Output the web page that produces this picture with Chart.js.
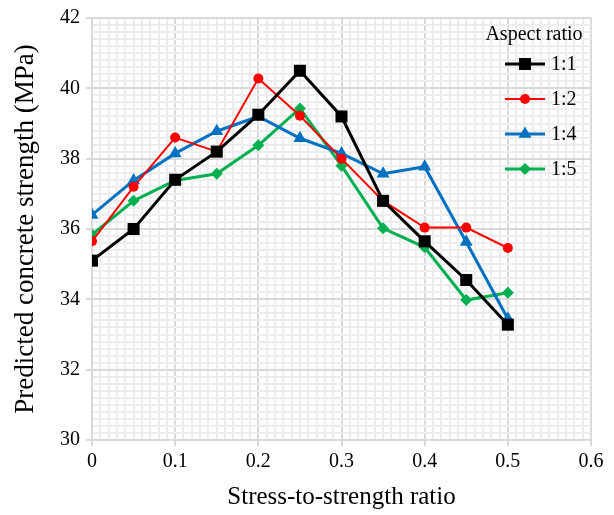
<!DOCTYPE html>
<html>
<head>
<meta charset="utf-8">
<script src="https://cdn.jsdelivr.net/npm/chart.js@4.4.1/dist/chart.umd.min.js"></script>
<style>
  html, body { margin: 0; padding: 0; background: #fff; }
  #wrap { width: 614px; height: 515px; }
</style>
</head>
<body>
<div id="wrap"><canvas id="chart" width="614" height="515"></canvas></div>
<script>
// stress-to-strength ratio
const ratios = [0, 0.05, 0.1, 0.15, 0.2, 0.25, 0.3, 0.35, 0.4, 0.45, 0.5];

// predicted concrete strength (MPa) for each aspect ratio
const aspect11 = [35.1, 36.0, 37.4, 38.2, 39.25, 40.5, 39.2, 36.8, 35.65, 34.55, 33.28];
const aspect12 = [35.65, 37.2, 38.6, 38.2, 40.28, 39.22, 38.0, 36.8, 36.04, 36.04, 35.46];
const aspect14 = [36.4, 37.38, 38.15, 38.78, 39.2, 38.58, 38.15, 37.57, 37.77, 35.63, 33.45];
const aspect15 = [35.84, 36.8, 37.38, 37.57, 38.38, 39.43, 37.8, 36.02, 35.48, 33.98, 34.19];

const seriesNames = ['1:1', '1:2', '1:4', '1:5'];
const xTicksMajor = [0, 0.1, 0.2, 0.3, 0.4, 0.5, 0.6];
const yTicksMajor = [30, 32, 34, 36, 38, 40, 42];

const FONT = "'Liberation Serif', 'Times New Roman', serif";

function pts(ys) {
  return ratios.map((x, i) => ({ x: x, y: ys[i] }));
}

function isMajor(v, list) {
  return list.some(m => Math.abs(m - v) < 1e-6);
}

// draws the "Aspect ratio" legend inside the plot area
const boxLegend = {
  id: 'boxLegend',
  afterDatasetsDraw(chart) {
    const ctx = chart.ctx;
    const area = chart.chartArea;
    const cx = area.right - 57;
    ctx.save();
    ctx.fillStyle = '#000';
    ctx.font = '20px ' + FONT;
    ctx.textAlign = 'center';
    ctx.textBaseline = 'middle';
    ctx.fillText('Aspect ratio', cx, area.top + 17);
    chart.data.datasets.forEach((ds, i) => {
      const y = area.top + 46 + i * 35;
      const x0 = area.right - 86, x1 = area.right - 46;
      ctx.strokeStyle = ds.borderColor;
      ctx.lineWidth = ds.borderWidth;
      ctx.beginPath();
      ctx.moveTo(x0, y);
      ctx.lineTo(x1, y);
      ctx.stroke();
      ctx.fillStyle = ds.pointBackgroundColor;
      Chart.helpers.drawPoint(ctx, {
        pointStyle: ds.pointStyle,
        radius: ds.pointRadius,
        rotation: 0,
        borderWidth: 0
      }, (x0 + x1) / 2, y);
      ctx.fillStyle = '#000';
      ctx.textAlign = 'left';
      ctx.font = '20px ' + FONT;
      ctx.fillText(ds.label, x1 + 6, y + 1);
    });
    ctx.restore();
  }
};

function makeSet(label, ys, color, style, radius, width) {
  return {
    label: label,
    data: pts(ys),
    borderColor: color,
    backgroundColor: color,
    pointBackgroundColor: color,
    pointBorderColor: color,
    pointBorderWidth: 0,
    pointStyle: style,
    pointRadius: radius,
    pointHoverRadius: radius,
    borderWidth: width,
    tension: 0
  };
}

new Chart(document.getElementById('chart'), {
  type: 'line',
  data: {
    datasets: [
      makeSet(seriesNames[0], aspect11, '#000000', 'rect', 8.5, 3),
      makeSet(seriesNames[1], aspect12, '#ff0000', 'circle', 5, 2),
      makeSet(seriesNames[2], aspect14, '#0070c0', 'triangle', 7.5, 3),
      makeSet(seriesNames[3], aspect15, '#00b050', 'rectRot', 6, 3)
    ]
  },
  options: {
    responsive: false,
    animation: false,
    layout: { padding: { top: 15, right: 23, left: 0, bottom: 0 } },
    plugins: {
      legend: { display: false },
      tooltip: { enabled: false }
    },
    scales: {
      x: {
        type: 'linear',
        min: 0,
        max: 0.6,
        afterFit(scale) { scale.height = 75; },
        ticks: {
          stepSize: 0.01,
          autoSkip: false,
          maxRotation: 0,
          padding: 4,
          color: '#000',
          font: { family: FONT, size: 20 },
          callback: v => isMajor(v, xTicksMajor) ? String(Math.round(v * 10) / 10) : ''
        },
        grid: {
          color: c => isMajor(c.tick.value, xTicksMajor) ? '#d9d9d9' : '#ededed',
          lineWidth: 2,
          tickColor: c => isMajor(c.tick.value, xTicksMajor) ? '#d9d9d9' : 'rgba(0,0,0,0)',
          tickLength: 6
        },
        border: { color: '#d9d9d9', width: 2 },
        title: {
          display: true,
          text: 'Stress-to-strength ratio',
          color: '#000',
          font: { family: FONT, size: 25 },
          padding: { top: 0, bottom: 3 }
        }
      },
      y: {
        type: 'linear',
        min: 30,
        max: 42,
        afterFit(scale) { scale.width = 92; },
        ticks: {
          stepSize: 0.2,
          autoSkip: false,
          padding: 6,
          color: '#000',
          font: { family: FONT, size: 20 },
          callback: v => isMajor(v, yTicksMajor) ? String(Math.round(v)) : ''
        },
        grid: {
          color: c => isMajor(c.tick.value, yTicksMajor) ? '#d9d9d9' : '#ededed',
          lineWidth: 2,
          tickColor: c => isMajor(c.tick.value, yTicksMajor) ? '#d9d9d9' : 'rgba(0,0,0,0)',
          tickLength: 6
        },
        border: { color: '#d9d9d9', width: 2 },
        title: {
          display: true,
          text: 'Predicted concrete strength (MPa)',
          color: '#000',
          font: { family: FONT, size: 27 },
          padding: { top: 10, bottom: 0 }
        }
      }
    }
  },
  plugins: [boxLegend]
});
</script>
</body>
</html>
